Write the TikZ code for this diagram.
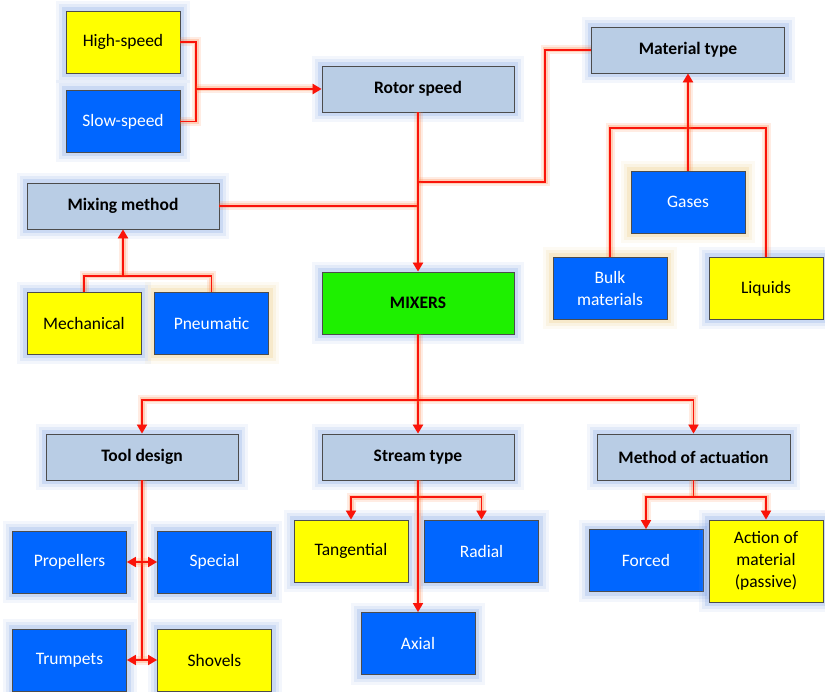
\documentclass[tikz,border=0pt]{standalone}
\usepackage{fontspec}
\setmainfont{Carlito}
\usepackage{tikz}
\usetikzlibrary{calc}
\usetikzlibrary{arrows.meta, positioning}
\definecolor{headfill}{RGB}{185,205,229}
\definecolor{bluefill}{RGB}{0,102,255}
\definecolor{yellowfill}{RGB}{255,255,0}
\definecolor{greenfill}{RGB}{30,240,0}
\definecolor{glowblue}{RGB}{110,150,225}
\definecolor{glowgold}{RGB}{235,195,110}
\definecolor{linkred}{RGB}{250,20,10}
\definecolor{glowred}{RGB}{255,110,40}
\tikzset{>={Triangle[length=9pt,width=10pt]}}
\tikzset{
  halo/.style={preaction={draw=#1, line width=20pt, opacity=0.08},
               preaction={draw=#1, line width=14pt, opacity=0.12},
               preaction={draw=#1, line width=8pt, opacity=0.2}},
  box/.style={draw=black!70, line width=0.9pt, inner sep=2pt, align=center,
              font=\fontsize{17.5}{21.7}\selectfont, halo=#1},
  box/.default=glowblue,
  head/.style={box, fill=headfill, font=\fontsize{17.5}{21.7}\selectfont\bfseries,
               minimum width=192pt, minimum height=46pt},
  bluebox/.style={box=#1, fill=bluefill, text=white, minimum width=114pt, minimum height=62pt},
  bluebox/.default=glowblue,
  yellowbox/.style={box, fill=yellowfill, text=black, minimum width=114pt, minimum height=62pt},
  link/.style={draw=linkred, line width=1.6pt,
               preaction={draw=glowred, line width=9pt, opacity=0.13},
               preaction={draw=glowred, line width=5pt, opacity=0.22}},
  mainlink/.style={link, line width=2.8pt}
}

\begin{document}
\begin{tikzpicture}[x=1pt, y=-1pt]
  \fill[white] (0,0) rectangle (825,692);
  \useasboundingbox (0,0) rectangle (825,692);
  % upper part
  \node[yellowbox] (hs) at (123,42) {High-speed};
  \node[bluebox] (ss) at (123,121.5) {Slow-speed};
  \node[head] (rotor) at (418,89) {Rotor speed};
  \node[head] (mixm) at (123,206) {Mixing method};
  \node[yellowbox] (mech) at (84,323.5) {Mechanical};
  \node[bluebox=glowgold] (pneu) at (211.5,323.5) {Pneumatic};
  \node[box, fill=greenfill, font=\fontsize{17.5}{21.7}\selectfont\bfseries,
        minimum width=192pt, minimum height=62pt] (mixers) at (418,303) {MIXERS};
  \node[head, minimum width=193pt] (mat) at (688,50) {Material type};
  \node[bluebox=glowgold] (gases) at (688,202) {Gases};
  \node[bluebox=glowgold] (bulk) at (610,288.5) {Bulk\\materials};
  \node[yellowbox] (liq) at (766,288.5) {Liquids};
  % lower part
  \node[head] (tool) at (142,457) {Tool design};
  \node[head] (stream) at (418,457) {Stream type};
  \node[head, minimum width=193pt] (act) at (693.5,457) {Method of actuation};
  \node[bluebox] (prop) at (69.5,562) {Propellers};
  \node[bluebox] (spec) at (214.5,562) {Special};
  \node[bluebox] (trump) at (69.5,660) {Trumpets};
  \node[yellowbox] (shov) at (214.5,660) {Shovels};
  \node[yellowbox] (tang) at (351,551) {Tangential};
  \node[bluebox] (rad) at (481.5,551) {Radial};
  \node[bluebox] (axial) at (418,643.5) {Axial};
  \node[bluebox] (forced) at (646,560.5) {Forced};
  \node[yellowbox, minimum height=82pt] (passive) at (766,561) {Action of\\material\\(passive)};

  % junctions
  \coordinate (jspeed) at (196,89);
  \coordinate (jtop) at (418,182);
  \coordinate (mbend) at (545,182);
  \coordinate (jmat) at (688,128);
  \coordinate (jmix) at (123,276);
  \coordinate (jlow) at (418,400);
  \coordinate (jstream) at (418,497);
  \coordinate (jact) at (693.5,497);

  \draw[link] (hs.east) -| (jspeed) |- (ss.east);
  \draw[mainlink,->] (jspeed) -- (rotor.west);
  \draw[link] (rotor.south) -- (jtop);
  \draw[link] (mat.west) -| (mbend) -- (jtop);
  \draw[link] (mixm.east) -- (mixm.east -| jtop);
  \draw[mainlink,->] (jtop) -- (mixers.north);
  \draw[link] (bulk.north) |- (jmat) -| (liq.north);
  \draw[mainlink,->] (gases.north) -- (mat.south);
  \draw[link] (mech.north) |- (jmix) -| (pneu.north);
  \draw[mainlink,->] (jmix) -- (mixm.south);

  \draw[mainlink,->] (mixers.south) -- (stream.north);
  \draw[link,->] (jlow) -| (tool.north);
  \draw[link,->] (jlow) -| (act.north);
  \draw[link] (tool.south) -- (tool.south |- trump.east);
  \draw[link,<->] (prop.east) -- (spec.west);
  \draw[link,<->] (trump.east) -- (shov.west);
  \draw[link,->] (jstream) -| (tang.north);
  \draw[link,->] (jstream) -| (rad.north);
  \draw[link,->] (stream.south) -- (axial.north);
  \draw[link] (act.south) -- (jact);
  \draw[link,->] (jact) -| (forced.north);
  \draw[link,->] (jact) -| (passive.north);
\end{tikzpicture}
\end{document}
